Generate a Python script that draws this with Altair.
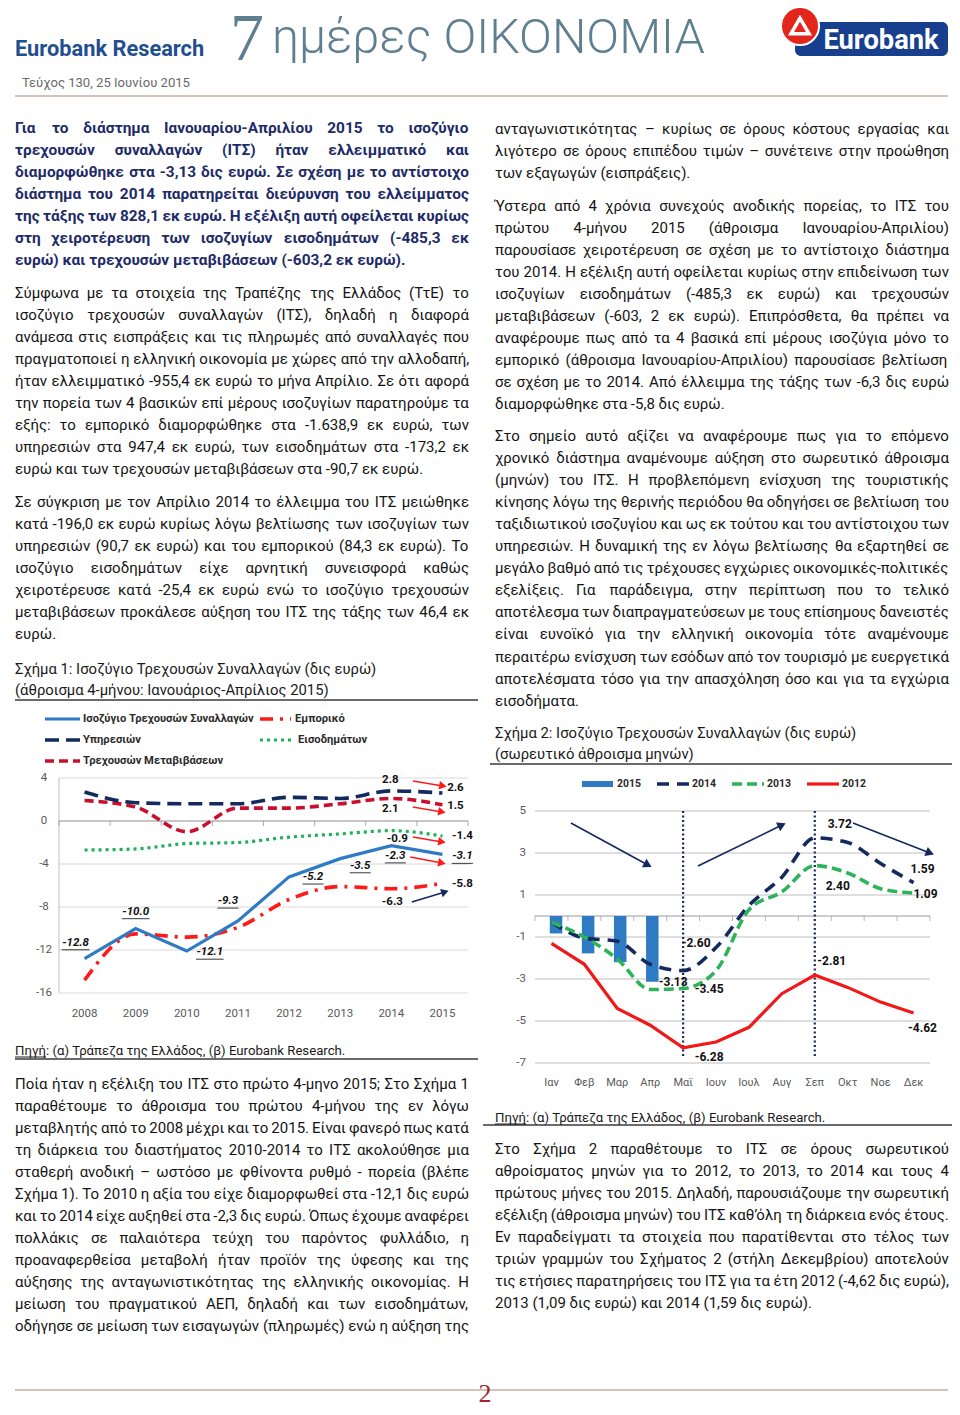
import os, glob, struct, math
import altair as alt
import pandas as pd

# ---------------------------------------------------------------- data
years = ["2008", "2009", "2010", "2011", "2012", "2013", "2014", "2015"]
its_balance = [-12.8, -10.0, -12.1, -9.3, -5.2, -3.5, -2.3, -3.1]
trade = [-14.8, -10.5, -10.8, -9.9, -7.3, -6.1, -6.3, -5.8]
services = [2.7, 1.7, 1.6, 1.6, 2.2, 2.1, 2.8, 2.6]
income = [-2.7, -2.6, -2.1, -2.0, -1.5, -1.2, -0.9, -1.4]
transfers = [1.9, 1.3, -1.0, 1.2, 1.2, 1.6, 2.1, 1.5]
c1_ticks = [4, 0, -4, -8, -12, -16]

months = ["Ιαν", "Φεβ", "Μαρ", "Απρ", "Μαϊ", "Ιουν", "Ιουλ", "Αυγ", "Σεπ", "Οκτ", "Νοε", "Δεκ"]
cum_2015 = [-0.83, -1.78, -2.20, -3.13]
cum_2014 = [-0.30, -1.05, -1.20, -2.30, -2.60, -1.50, 0.50, 1.85, 3.72, 3.50, 2.50, 1.59]
cum_2013 = [-0.30, -1.00, -2.05, -3.50, -3.45, -2.60, 0.30, 1.15, 2.40, 2.05, 1.30, 1.09]
cum_2012 = [-1.30, -2.30, -4.40, -5.20, -6.28, -6.00, -5.30, -3.70, -2.81, -3.40, -4.10, -4.62]
c2_ticks = [5, 3, 1, -1, -3, -5, -7]
c2_vlines = [4, 8]

# annotation arrows (data units of each chart)
c1_arrow_x1 = [6.42, 6.42, 6.42, 6.37, 6.40]
c1_arrow_y1 = [3.72, 1.30, -1.49, -3.35, -7.53]
c1_arrow_x2 = [7.01, 6.99, 6.99, 6.99, 7.05]
c1_arrow_y2 = [3.26, 0.84, -1.95, -3.91, -6.60]
c1_arrow_col = ["#FF1A1A", "#FF1A1A", "#FF1A1A", "#FF1A1A", "#14295E"]
c2_arrow_x1 = [0.59, 4.45, 9.16]
c2_arrow_y1 = [4.43, 2.38, 4.43]
c2_arrow_x2 = [2.93, 7.00, 11.50]
c2_arrow_y2 = [2.43, 4.33, 3.00]

# ---------------------------------------------------------------- texts
par_L1 = [
    "Για το διάστημα Ιανουαρίου-Απριλίου 2015 το ισοζύγιο",
    "τρεχουσών συναλλαγών (ΙΤΣ) ήταν ελλειμματικό και",
    "διαμορφώθηκε στα -3,13 δις ευρώ. Σε σχέση με το αντίστοιχο",
    "διάστημα του 2014 παρατηρείται διεύρυνση του ελλείμματος",
    "της τάξης των 828,1 εκ ευρώ. Η εξέλιξη αυτή οφείλεται κυρίως",
    "στη χειροτέρευση των ισοζυγίων εισοδημάτων (-485,3 εκ",
    "ευρώ) και τρεχουσών μεταβιβάσεων (-603,2 εκ ευρώ).",
]
par_L2 = [
    "Σύμφωνα με τα στοιχεία της Τραπέζης της Ελλάδος (ΤτΕ) το",
    "ισοζύγιο τρεχουσών συναλλαγών (ΙΤΣ), δηλαδή η διαφορά",
    "ανάμεσα στις εισπράξεις και τις πληρωμές από συναλλαγές που",
    "πραγματοποιεί η ελληνική οικονομία με χώρες από την αλλοδαπή,",
    "ήταν ελλειμματικό -955,4 εκ ευρώ το μήνα Απρίλιο. Σε ότι αφορά",
    "την πορεία των 4 βασικών επί μέρους ισοζυγίων παρατηρούμε τα",
    "εξής: το εμπορικό διαμορφώθηκε στα -1.638,9 εκ ευρώ, των",
    "υπηρεσιών στα 947,4 εκ ευρώ, των εισοδημάτων στα -173,2 εκ",
    "ευρώ και των τρεχουσών μεταβιβάσεων στα -90,7 εκ ευρώ.",
]
par_L3 = [
    "Σε σύγκριση με τον Απρίλιο 2014 το έλλειμμα του ΙΤΣ μειώθηκε",
    "κατά -196,0 εκ ευρώ κυρίως λόγω βελτίωσης των ισοζυγίων των",
    "υπηρεσιών (90,7 εκ ευρώ) και του εμπορικού (84,3 εκ ευρώ). Το",
    "ισοζύγιο εισοδημάτων είχε αρνητική συνεισφορά καθώς",
    "χειροτέρευσε κατά -25,4 εκ ευρώ ενώ το ισοζύγιο τρεχουσών",
    "μεταβιβάσεων προκάλεσε αύξηση του ΙΤΣ της τάξης των 46,4 εκ",
    "ευρώ.",
]
par_L4 = [
    "Ποία ήταν η εξέλιξη του ΙΤΣ στο πρώτο 4-μηνο 2015; Στο Σχήμα 1",
    "παραθέτουμε το άθροισμα του πρώτου 4-μήνου της εν λόγω",
    "μεταβλητής από το 2008 μέχρι και το 2015. Είναι φανερό πως κατά",
    "τη διάρκεια του διαστήματος 2010-2014 το ΙΤΣ ακολούθησε μια",
    "σταθερή ανοδική – ωστόσο με φθίνοντα ρυθμό - πορεία (βλέπε",
    "Σχήμα 1). Το 2010 η αξία του είχε διαμορφωθεί στα -12,1 δις ευρώ",
    "και το 2014 είχε αυξηθεί στα -2,3 δις ευρώ. Όπως έχουμε αναφέρει",
    "πολλάκις σε παλαιότερα τεύχη του παρόντος φυλλάδιο, η",
    "προαναφερθείσα μεταβολή ήταν προϊόν της ύφεσης και της",
    "αύξησης της ανταγωνιστικότητας της ελληνικής οικονομίας. Η",
    "μείωση του πραγματικού ΑΕΠ, δηλαδή και των εισοδημάτων,",
    "οδήγησε σε μείωση των εισαγωγών (πληρωμές) ενώ η αύξηση της",
]
par_R1 = [
    "ανταγωνιστικότητας – κυρίως σε όρους κόστους εργασίας και",
    "λιγότερο σε όρους επιπέδου τιμών – συνέτεινε στην προώθηση",
    "των εξαγωγών (εισπράξεις).",
]
par_R2 = [
    "Ύστερα από 4 χρόνια συνεχούς ανοδικής πορείας, το ΙΤΣ του",
    "πρώτου 4-μήνου 2015 (άθροισμα Ιανουαρίου-Απριλίου)",
    "παρουσίασε χειροτέρευση σε σχέση με το αντίστοιχο διάστημα",
    "του 2014. Η εξέλιξη αυτή οφείλεται κυρίως στην επιδείνωση των",
    "ισοζυγίων εισοδημάτων (-485,3 εκ ευρώ) και τρεχουσών",
    "μεταβιβάσεων (-603, 2 εκ ευρώ). Επιπρόσθετα, θα πρέπει να",
    "αναφέρουμε πως από τα 4 βασικά επί μέρους ισοζύγια μόνο το",
    "εμπορικό (άθροισμα Ιανουαρίου-Απριλίου) παρουσίασε βελτίωση",
    "σε σχέση με το 2014. Από έλλειμμα της τάξης των -6,3 δις ευρώ",
    "διαμορφώθηκε στα -5,8 δις ευρώ.",
]
par_R3 = [
    "Στο σημείο αυτό αξίζει να αναφέρουμε πως για το επόμενο",
    "χρονικό διάστημα αναμένουμε αύξηση στο σωρευτικό άθροισμα",
    "(μηνών) του ΙΤΣ. Η προβλεπόμενη ενίσχυση της τουριστικής",
    "κίνησης λόγω της θερινής περιόδου θα οδηγήσει σε βελτίωση του",
    "ταξιδιωτικού ισοζυγίου και ως εκ τούτου και του αντίστοιχου των",
    "υπηρεσιών. Η δυναμική της εν λόγω βελτίωσης θα εξαρτηθεί σε",
    "μεγάλο βαθμό από τις τρέχουσες εγχώριες οικονομικές-πολιτικές",
    "εξελίξεις. Για παράδειγμα, στην περίπτωση που το τελικό",
    "αποτέλεσμα των διαπραγματεύσεων με τους επίσημους δανειστές",
    "είναι ευνοϊκό για την ελληνική οικονομία τότε αναμένουμε",
    "περαιτέρω ενίσχυση των εσόδων από τον τουρισμό με ευεργετικά",
    "αποτελέσματα τόσο για την απασχόληση όσο και για τα εγχώρια",
    "εισοδήματα.",
]
par_R4 = [
    "Στο Σχήμα 2 παραθέτουμε το ΙΤΣ σε όρους σωρευτικού",
    "αθροίσματος μηνών για το 2012, το 2013, το 2014 και τους 4",
    "πρώτους μήνες του 2015. Δηλαδή, παρουσιάζουμε την σωρευτική",
    "εξέλιξη (άθροισμα μηνών) του ΙΤΣ καθ’όλη τη διάρκεια ενός έτους.",
    "Εν παραδείγματι τα στοιχεία που παρατίθενται στο τέλος των",
    "τριών γραμμών του Σχήματος 2 (στήλη Δεκεμβρίου) αποτελούν",
    "τις ετήσιες παρατηρήσεις του ΙΤΣ για τα έτη 2012 (-4,62 δις ευρώ),",
    "2013 (1,09 δις ευρώ) και 2014 (1,59 δις ευρώ).",
]
title1 = ["Σχήμα 1: Ισοζύγιο Τρεχουσών Συναλλαγών (δις ευρώ)",
          "(άθροισμα 4-μήνου: Ιανουάριος-Απρίλιος 2015)"]
title2 = ["Σχήμα 2: Ισοζύγιο Τρεχουσών Συναλλαγών (δις ευρώ)",
          "(σωρευτικό άθροισμα μηνών)"]
source_label = "Πηγή"
source_text = "Πηγή: (α) Τράπεζα της Ελλάδος, (β) Eurobank Research."
legend1 = ["Ισοζύγιο Τρεχουσών Συναλλαγών", "Εμπορικό", "Υπηρεσιών", "Εισοδημάτων",
           "Τρεχουσών Μεταβιβάσεων"]
legend2 = ["2015", "2014", "2013", "2012"]

# ---------------------------------------------------------------- font metrics
FONT_DIRS = ["/usr/share/fonts", "/usr/local/share/fonts",
             os.path.expanduser("~/.fonts"), os.path.expanduser("~/.local/share/fonts")]


def find_file(names):
    for d in FONT_DIRS:
        if not os.path.isdir(d):
            continue
        for n in names:
            hits = sorted(glob.glob(os.path.join(d, "**", n), recursive=True))
            if hits:
                return hits[0]
    return None


class Metrics:
    def __init__(self, path):
        d = open(path, "rb").read()
        if d[:4] == b"ttcf":
            raise ValueError("collection")
        self.d = d
        n = struct.unpack(">H", d[4:6])[0]
        t = {}
        for k in range(n):
            tag, _c, off, _l = struct.unpack(">4sIII", d[12 + 16 * k: 28 + 16 * k])
            t[tag] = off
        self.upem = struct.unpack(">H", d[t[b"head"] + 18: t[b"head"] + 20])[0]
        nhm = struct.unpack(">H", d[t[b"hhea"] + 34: t[b"hhea"] + 36])[0]
        h = t[b"hmtx"]
        self.adv = [struct.unpack(">H", d[h + 4 * k: h + 4 * k + 2])[0] for k in range(nhm)]
        c = t[b"cmap"]
        ns = struct.unpack(">H", d[c + 2: c + 4])[0]
        subs = []
        for k in range(ns):
            pid, eid, off = struct.unpack(">HHI", d[c + 4 + 8 * k: c + 12 + 8 * k])
            fmt = struct.unpack(">H", d[c + off: c + off + 2])[0]
            subs.append((fmt, pid, eid, c + off))
        self.sub = None
        for fmt, pid, eid, o in subs:
            if fmt == 12:
                self.sub = (12, o)
                break
        if self.sub is None:
            for fmt, pid, eid, o in subs:
                if fmt == 4 and (pid == 0 or (pid == 3 and eid in (1, 10))):
                    self.sub = (4, o)
                    break
        if self.sub is None:
            raise ValueError("no cmap")
        self.cache = {}
        self.exact = True

    def gid(self, ch):
        cp = ord(ch)
        fmt, o = self.sub
        d = self.d
        if fmt == 12:
            ng = struct.unpack(">I", d[o + 12: o + 16])[0]
            for k in range(ng):
                s, e, g = struct.unpack(">III", d[o + 16 + 12 * k: o + 28 + 12 * k])
                if s <= cp <= e:
                    return g + cp - s
            return 0
        segx2 = struct.unpack(">H", d[o + 6: o + 8])[0]
        ends = o + 14
        starts = ends + segx2 + 2
        deltas = starts + segx2
        ranges = deltas + segx2
        for k in range(segx2 // 2):
            e = struct.unpack(">H", d[ends + 2 * k: ends + 2 * k + 2])[0]
            if e >= cp:
                s = struct.unpack(">H", d[starts + 2 * k: starts + 2 * k + 2])[0]
                if s > cp:
                    return 0
                delta = struct.unpack(">h", d[deltas + 2 * k: deltas + 2 * k + 2])[0]
                ro = struct.unpack(">H", d[ranges + 2 * k: ranges + 2 * k + 2])[0]
                if ro == 0:
                    return (cp + delta) & 0xFFFF
                addr = ranges + 2 * k + ro + 2 * (cp - s)
                g = struct.unpack(">H", d[addr: addr + 2])[0]
                return (g + delta) & 0xFFFF if g else 0
        return 0

    def width(self, text, size):
        tot = 0
        for ch in text:
            if ch not in self.cache:
                g = self.gid(ch)
                self.cache[ch] = self.adv[g] if g < len(self.adv) else self.adv[-1]
            tot += self.cache[ch]
        return tot * size / self.upem

    def covers(self, text):
        return all(self.gid(ch) != 0 for ch in set(text) if ch != " ")


class Estimate:
    exact = False

    def width(self, text, size):
        return len(text) * 0.53 * size


ALL_TEXT = "".join(par_L1 + par_L2 + par_L3 + par_L4 + par_R1 + par_R2 + par_R3 + par_R4
                   + title1 + title2 + legend1 + months) + source_text

CANDS = [("Roboto", ["Roboto-Regular.ttf"], ["Roboto-Bold.ttf"], ["Roboto-Light.ttf"]),
         ("Noto Sans", ["NotoSans-Regular.ttf"], ["NotoSans-Bold.ttf"], ["NotoSans-Light.ttf"]),
         ("Open Sans", ["OpenSans-Regular.ttf"], ["OpenSans-Bold.ttf"], ["OpenSans-Light.ttf"]),
         ("Liberation Sans", ["LiberationSans-Regular.ttf"], ["LiberationSans-Bold.ttf"], []),
         ("DejaVu Sans", ["DejaVuSans.ttf"], ["DejaVuSans-Bold.ttf"], ["DejaVuSans-ExtraLight.ttf"])]

FAM, MREG, MBOLD, MLIGHT = "Roboto", Estimate(), Estimate(), None
for fam, rn, bn, ln in CANDS:
    try:
        pr, pb = find_file(rn), find_file(bn)
        if not pr or not pb:
            continue
        mr, mb = Metrics(pr), Metrics(pb)
        if not (mr.covers(ALL_TEXT) and mb.covers(ALL_TEXT)):
            continue
        FAM, MREG, MBOLD = fam, mr, mb
        pl = find_file(ln) if ln else None
        if pl:
            try:
                MLIGHT = Metrics(pl)
            except Exception:
                MLIGHT = None
        break
    except Exception:
        continue

# ---------------------------------------------------------------- canvas & scales
W, H = 944, 1396
M = 8  # reference pixel = canvas pixel + page margin


def sc(domain, rng):
    return alt.Scale(domain=domain, range=rng, nice=False, zero=False)


PXS = sc([M, M + W], [0, W])
PYS = sc([M, M + H], [0, H])
C1X = sc([-0.5, 7.5], [59 - M, 468 - M])
C1Y = sc([-16, 4], [993 - M, 778 - M])
C2X = sc([-0.5, 11.5], [535 - M, 930 - M])
C2Y = sc([-7, 5], [1063 - M, 811 - M])


def X(f, s):
    return alt.X(f, type="quantitative", scale=s, axis=None)


def Y(f, s):
    return alt.Y(f, type="quantitative", scale=s, axis=None)


layers = []

# ---------------------------------------------------------------- page text machinery
texts = {}
STY = {}


def style(name, **kw):
    STY[name] = kw


def put(name, x, y, t):
    texts.setdefault(name, []).append({"px": x, "py": y, "t": t})


def fit(text, met, target):
    return target / met.width(text, 1.0)


def fit_par(lines, w, met, target):
    s = target
    sp = met.width(" ", 1.0)
    for line in lines:
        words = line.split()
        nat = sum(met.width(x, 1.0) for x in words) + (len(words) - 1) * sp * 0.8
        s = min(s, w / nat)
    return s


def para(lines, x0, x1, base0, lh, met, size, name, justify_last=False):
    for k, line in enumerate(lines):
        y = base0 + lh * k
        words = line.split()
        last = (k == len(lines) - 1) and not justify_last
        if met.exact and not last and len(words) > 1:
            ws = [met.width(x, size) for x in words]
            gap = (x1 - x0 - sum(ws)) / (len(words) - 1)
            x = x0
            for wd, wv in zip(words, ws):
                put(name, x, y, wd)
                x += wv + gap
        else:
            put(name, x0, y, " ".join(words))


COLW = 454
regular_pars = [par_L2, par_L3, par_L4, par_R1, par_R2, par_R3, par_R4]
s_body = min(fit_par(p, COLW, MREG, 15.4) for p in regular_pars)
s_bold = fit_par(par_L1, COLW, MBOLD, 15.4)

style("body", font=FAM, size=s_body, color="#141414")
style("lead", font=FAM, size=s_bold, weight="bold", color="#1E2B69")

para(par_L1, 15, 469, 133, 22, MBOLD, s_bold, "lead")
para(par_L2, 15, 469, 298, 22, MREG, s_body, "body")
para(par_L3, 15, 469, 507, 22, MREG, s_body, "body")
para(par_L4, 15, 469, 1089, 22, MREG, s_body, "body", justify_last=True)
para(par_R1, 495, 949, 134, 22, MREG, s_body, "body")
para(par_R2, 495, 949, 211, 22, MREG, s_body, "body")
para(par_R3, 495, 949, 441, 22.05, MREG, s_body, "body")
para(par_R4, 495, 949, 1154, 22, MREG, s_body, "body")

# titles and sources
s_title = fit(title1[0], MREG, 363)
style("title", font=FAM, size=s_title, color="#1A1A1A")
put("title", 15, 674, title1[0])
put("title", 15, 695, title1[1])
put("title", 495, 738, title2[0])
put("title", 495, 759, title2[1])
s_src = fit(source_text, MREG, 332)
style("source", font=FAM, size=s_src, color="#1A1A1A")
put("source", 15, 1055, source_text)
put("source", 495, 1122, source_text)
w_src_label = MREG.width(source_label, s_src)

# header
style("brand", font=FAM, size=fit("Eurobank Research", MBOLD, 190), weight="bold", color="#1F4F8F")
put("brand", 15, 56, "Eurobank Research")
head_met = MLIGHT if MLIGHT is not None else MREG
style("mast", font=FAM, size=fit("ημέρες ΟΙΚΟΝΟΜΙΑ", head_met, 433),
      weight=300 if MLIGHT is not None else "normal", color="#5F7F90")
put("mast", 272, 53, "ημέρες ΟΙΚΟΝΟΜΙΑ")
style("seven", font="Liberation Serif", size=68, weight="normal", color="#5F7F90")
put("seven", 230, 60, "7")
style("issue", font=FAM, size=fit("Τεύχος 130, 25 Ιουνίου 2015", MREG, 169), color="#6A6A6A")
put("issue", 22, 87, "Τεύχος 130, 25 Ιουνίου 2015")
style("logo", font=FAM, size=fit("Eurobank", MBOLD, 116), weight="bold", color="#FFFFFF", align="center")
put("logo", 881, 49, "Eurobank")
style("pageno", font="Liberation Serif", size=26, color="#A3242C", align="center")
put("pageno", 485, 1402, "2")

# chart legends (page positions)
s_leg1 = fit(legend1[0], MBOLD, 172)
style("leg", font=FAM, size=s_leg1, weight="bold", color="#2B2B2B", baseline="middle")
leg1_pos = [(83, 719), (295, 719), (83, 740), (298, 740), (83, 761)]
for (lx, ly), lt in zip(leg1_pos, legend1):
    put("leg", lx, ly, lt)
style("leg2", font=FAM, size=fit("2015", MBOLD, 24), weight="bold", color="#2B2B2B", baseline="middle")
for lx, lt in zip([617, 692, 767, 842], legend2):
    put("leg2", lx, 784, lt)

# ---------------------------------------------------------------- series styles
ST_ITS = dict(color="#2E7BC4", strokeWidth=3.2)
ST_TRADE = dict(color="#FF1A1A", strokeWidth=3.6, strokeDash=[13, 7, 3, 7])
ST_SERV = dict(color="#14295E", strokeWidth=3.6, strokeDash=[14, 7])
ST_INC = dict(color="#1DAF5A", strokeWidth=3.2, strokeDash=[3, 4])
ST_TRANS = dict(color="#C8102E", strokeWidth=3.6, strokeDash=[9, 5])
ST_14 = dict(color="#14295E", strokeWidth=3.6, strokeDash=[12, 8])
ST_13 = dict(color="#2DB35A", strokeWidth=3.6, strokeDash=[10, 5])
ST_12 = dict(color="#F01818", strokeWidth=3.2)
BAR_COL = "#2E7BC4"

# ---------------------------------------------------------------- page rules
prules = {}
RST = {}


def rstyle(name, **kw):
    RST[name] = kw


def prule(name, x1, y1, x2, y2):
    prules.setdefault(name, []).append(dict(px=x1, py=y1, px2=x2, py2=y2))


rstyle("beige", color="#D3C3B9", strokeWidth=2)
prule("beige", 15, 96, 948, 96)
prule("beige", 15, 1390, 948, 1390)
rstyle("sep", color="#3A3A3A", strokeWidth=1.5)
prule("sep", 15, 700, 478, 700)
prule("sep", 15, 1059, 478, 1059)
prule("sep", 490, 764, 958, 764)
prule("sep", 483, 1125, 958, 1125)
rstyle("uline", color="#1A1A1A", strokeWidth=1)
prule("uline", 15, 1057, 15 + w_src_label, 1057)
prule("uline", 495, 1124, 495 + w_src_label, 1124)
# legend samples chart 1
rstyle("l_its", **ST_ITS)
prule("l_its", 45, 719, 80, 719)
rstyle("l_trade", **ST_TRADE)
prule("l_trade", 260, 719, 291, 719)
rstyle("l_serv", **ST_SERV)
prule("l_serv", 45, 740, 80, 740)
rstyle("l_inc", **ST_INC)
prule("l_inc", 260, 740, 293, 740)
rstyle("l_trans", **ST_TRANS)
prule("l_trans", 45, 761, 80, 761)
# legend samples chart 2
rstyle("l_14", **ST_14)
prule("l_14", 657, 784, 689, 784)
rstyle("l_13", **ST_13)
prule("l_13", 732, 784, 764, 784)
rstyle("l_12", **ST_12)
prule("l_12", 807, 784, 839, 784)

# logo shapes
logo_rect = pd.DataFrame({"px": [795], "px2": [948], "py": [22], "py2": [56]})
layers.append(alt.Chart(logo_rect).mark_rect(color="#183E8E", cornerRadius=6).encode(
    x=X("px", PXS), x2="px2", y=Y("py", PYS), y2="py2"))
leg_rect = pd.DataFrame({"px": [582], "px2": [613], "py": [781], "py2": [787]})
layers.append(alt.Chart(leg_rect).mark_rect(color=BAR_COL).encode(
    x=X("px", PXS), x2="px2", y=Y("py", PYS), y2="py2"))
logo_dot = pd.DataFrame({"px": [800], "py": [26]})
layers.append(alt.Chart(logo_dot).mark_point(shape="circle", filled=True, size=1450, color="#E3261B",
                                              stroke="#FFFFFF", strokeWidth=2, opacity=1).encode(
    x=X("px", PXS), y=Y("py", PYS)))
layers.append(alt.Chart(logo_dot).mark_point(shape="triangle-up", filled=False, size=330, color="#FFFFFF",
                                              strokeWidth=3.5, opacity=1).encode(
    x=X("px", PXS), y=Y("py", PYS)))

for name, rows in prules.items():
    layers.append(alt.Chart(pd.DataFrame(rows)).mark_rule(**RST[name]).encode(
        x=X("px", PXS), y=Y("py", PYS), x2="px2", y2="py2"))

# ---------------------------------------------------------------- chart 1 (4-month sums)
n1 = len(years)
grid1 = pd.DataFrame({"y": [t for t in c1_ticks if t != 0], "x0": -0.5, "x1": n1 - 0.5})
layers.append(alt.Chart(grid1).mark_rule(color="#D9D9D9", strokeWidth=1).encode(
    x=X("x0", C1X), x2="x1", y=Y("y", C1Y)))
vax1 = pd.DataFrame({"x": [-0.5], "y0": [min(c1_ticks)], "y1": [max(c1_ticks)]})
layers.append(alt.Chart(vax1).mark_rule(color="#BFBFBF", strokeWidth=1).encode(
    x=X("x", C1X), y=Y("y0", C1Y), y2="y1"))
ax1 = pd.DataFrame({"y": [0], "x0": [-0.5], "x1": [n1 - 0.5]})
layers.append(alt.Chart(ax1).mark_rule(color="#8C8C8C", strokeWidth=1).encode(
    x=X("x0", C1X), x2="x1", y=Y("y", C1Y)))
tk1 = pd.DataFrame({"x": [i - 0.5 for i in range(n1 + 1)], "y": 0})
layers.append(alt.Chart(tk1).mark_tick(orient="vertical", size=5, thickness=1, color="#8C8C8C",
                                       yOffset=2.5).encode(x=X("x", C1X), y=Y("y", C1Y)))
ylab1 = pd.DataFrame({"y": c1_ticks, "x": -0.5, "t": [str(t) for t in c1_ticks]})
layers.append(alt.Chart(ylab1).mark_text(align="center", baseline="middle", dx=-15, font=FAM,
                                         fontSize=11.5, color="#595959").encode(
    x=X("x", C1X), y=Y("y", C1Y), text="t:N"))
xlab1 = pd.DataFrame({"x": list(range(n1)), "y": min(c1_ticks), "t": years})
layers.append(alt.Chart(xlab1).mark_text(align="center", baseline="middle", dy=21, font=FAM,
                                         fontSize=11.5, color="#595959").encode(
    x=X("x", C1X), y=Y("y", C1Y), text="t:N"))


def series_df(vals):
    return pd.DataFrame({"x": list(range(len(vals))), "v": vals})


for vals, st, interp in [(transfers, ST_TRANS, "monotone"), (income, ST_INC, "monotone"),
                         (services, ST_SERV, "monotone"), (trade, ST_TRADE, "monotone"),
                         (its_balance, ST_ITS, "linear")]:
    layers.append(alt.Chart(series_df(vals)).mark_line(interpolate=interp, **st).encode(
        x=X("x", C1X), y=Y("v", C1Y)))

# arrows chart 1
px1 = (468 - 59) / 8.0
py1 = 215 / 20.0
arr1 = pd.DataFrame({"x1": c1_arrow_x1, "y1": c1_arrow_y1, "x2": c1_arrow_x2, "y2": c1_arrow_y2,
                     "col": c1_arrow_col})
arr1["ang"] = [math.degrees(math.atan2(-(b2 - b1) * py1, (a2 - a1) * px1)) % 360
               for a1, b1, a2, b2 in zip(c1_arrow_x1, c1_arrow_y1, c1_arrow_x2, c1_arrow_y2)]
layers.append(alt.Chart(arr1).mark_rule(strokeWidth=1.6).encode(
    x=X("x1", C1X), y=Y("y1", C1Y), x2="x2", y2="y2", color=alt.Color("col:N", scale=None)))
layers.append(alt.Chart(arr1).mark_point(shape="triangle-right", filled=True, size=75, opacity=1).encode(
    x=X("x2", C1X), y=Y("y2", C1Y), color=alt.Color("col:N", scale=None),
    angle=alt.Angle("ang:Q", scale=None)))


def value_label(vals, i, dx, dy, scx, scy, size, fmt, italic=False, underline=False):
    t = fmt.format(vals[i])
    df = pd.DataFrame({"x": [i], "v": [vals[i]], "t": [t]})
    kw = dict(align="center", baseline="middle", dx=dx, dy=dy, font=FAM, fontSize=size,
              fontWeight="bold", color="#111111")
    if italic:
        kw["fontStyle"] = "italic"
    out = [alt.Chart(df).mark_text(**kw).encode(x=X("x", scx), y=Y("v", scy), text="t:N")]
    if underline:
        w = MBOLD.width(t, size)
        out.append(alt.Chart(df).mark_tick(orient="horizontal", size=w, thickness=1.2, color="#111111",
                                           xOffset=dx, yOffset=dy + size * 0.62).encode(
            x=X("x", scx), y=Y("v", scy)))
    return out


its_offsets = [(-9, -16), (0, -17), (23, 1), (-10, -20), (24, 0), (20, 7), (4, 10), (20, 2)]
for i, (dx, dy) in enumerate(its_offsets):
    layers += value_label(its_balance, i, dx, dy, C1X, C1Y, 11.5, "{:.1f}", italic=True, underline=True)
for vals, offs in [(services, [(-1, -11), (13, -5)]), (transfers, [(-1, 11), (13, 1)]),
                   (income, [(6, 8), (20, 0)]), (trade, [(1, 13), (20, 1)])]:
    for i, (dx, dy) in zip([6, 7], offs):
        layers += value_label(vals, i, dx, dy, C1X, C1Y, 11.5, "{:.1f}")

# ---------------------------------------------------------------- chart 2 (cumulative months)
n2 = len(months)
grid2 = pd.DataFrame({"y": c2_ticks, "x0": -0.5, "x1": n2 - 0.5})
layers.append(alt.Chart(grid2).mark_rule(color="#BFBFBF", strokeWidth=1).encode(
    x=X("x0", C2X), x2="x1", y=Y("y", C2Y)))
ax2 = pd.DataFrame({"y": [0], "x0": [-0.5], "x1": [n2 - 0.5]})
layers.append(alt.Chart(ax2).mark_rule(color="#9A9A9A", strokeWidth=1).encode(
    x=X("x0", C2X), x2="x1", y=Y("y", C2Y)))
tk2 = pd.DataFrame({"x": [i - 0.5 for i in range(n2 + 1)], "y": 0})
layers.append(alt.Chart(tk2).mark_tick(orient="vertical", size=5, thickness=1, color="#9A9A9A",
                                       yOffset=2.5).encode(x=X("x", C2X), y=Y("y", C2Y)))
ylab2 = pd.DataFrame({"y": c2_ticks, "x": -0.5, "t": [str(t) for t in c2_ticks]})
layers.append(alt.Chart(ylab2).mark_text(align="right", baseline="middle", dx=-9, font=FAM,
                                         fontSize=11.5, color="#595959").encode(
    x=X("x", C2X), y=Y("y", C2Y), text="t:N"))
xlab2 = pd.DataFrame({"x": list(range(n2)), "y": min(c2_ticks), "t": months})
layers.append(alt.Chart(xlab2).mark_text(align="center", baseline="middle", dy=20, font=FAM,
                                         fontSize=11, color="#595959").encode(
    x=X("x", C2X), y=Y("y", C2Y), text="t:N"))

bars = pd.DataFrame({"x": list(range(len(cum_2015))), "v": cum_2015, "z": 0.0})
layers.append(alt.Chart(bars).mark_bar(size=12.5, color=BAR_COL).encode(
    x=X("x", C2X), y=Y("v", C2Y), y2="z"))

vl = pd.DataFrame({"x": c2_vlines, "y0": max(c2_ticks), "y1": -6.7})
layers.append(alt.Chart(vl).mark_rule(color="#14295E", strokeWidth=2.2, strokeDash=[2, 2.5]).encode(
    x=X("x", C2X), y=Y("y0", C2Y), y2="y1"))

for vals, st, interp in [(cum_2014, ST_14, "monotone"), (cum_2013, ST_13, "monotone"),
                         (cum_2012, ST_12, "linear")]:
    layers.append(alt.Chart(series_df(vals)).mark_line(interpolate=interp, **st).encode(
        x=X("x", C2X), y=Y("v", C2Y)))

px2 = (930 - 535) / 12.0
py2 = 21.0
arr2 = pd.DataFrame({"x1": c2_arrow_x1, "y1": c2_arrow_y1, "x2": c2_arrow_x2, "y2": c2_arrow_y2})
arr2["ang"] = [math.degrees(math.atan2(-(b2 - b1) * py2, (a2 - a1) * px2)) % 360
               for a1, b1, a2, b2 in zip(c2_arrow_x1, c2_arrow_y1, c2_arrow_x2, c2_arrow_y2)]
layers.append(alt.Chart(arr2).mark_rule(strokeWidth=1.6, color="#14295E").encode(
    x=X("x1", C2X), y=Y("y1", C2Y), x2="x2", y2="y2"))
layers.append(alt.Chart(arr2).mark_point(shape="triangle-right", filled=True, size=95, opacity=1,
                                         color="#14295E").encode(
    x=X("x2", C2X), y=Y("y2", C2Y), angle=alt.Angle("ang:Q", scale=None)))

for vals, i, dx, dy in [(cum_2014, 8, 25, -14), (cum_2014, 11, 9, -14), (cum_2013, 8, 23, 20),
                        (cum_2013, 11, 12, 1), (cum_2014, 4, 13, -28), (cum_2015, 3, 23, 0),
                        (cum_2013, 4, 26, 1), (cum_2012, 8, 17, -14), (cum_2012, 4, 26, 9),
                        (cum_2012, 11, 9, 15)]:
    layers += value_label(vals, i, dx, dy, C2X, C2Y, 12, "{:.2f}")

# ---------------------------------------------------------------- page text layers (on top)
for name, rows in texts.items():
    st = STY[name]
    kw = dict(align=st.get("align", "left"), baseline=st.get("baseline", "alphabetic"),
              font=st["font"], fontSize=st["size"], fontWeight=st.get("weight", "normal"),
              color=st["color"])
    layers.append(alt.Chart(pd.DataFrame(rows)).mark_text(**kw).encode(
        x=X("px", PXS), y=Y("py", PYS), text="t:N"))

chart = alt.layer(*layers).resolve_scale(x="independent", y="independent").properties(
    width=W, height=H, padding=0, autosize=alt.AutoSizeParams(type="none")
).configure(background="#FFFFFF", view=alt.ViewConfig(stroke=None, strokeWidth=0))

chart.save("out.html", embed_options={"renderer": "svg", "actions": False})
